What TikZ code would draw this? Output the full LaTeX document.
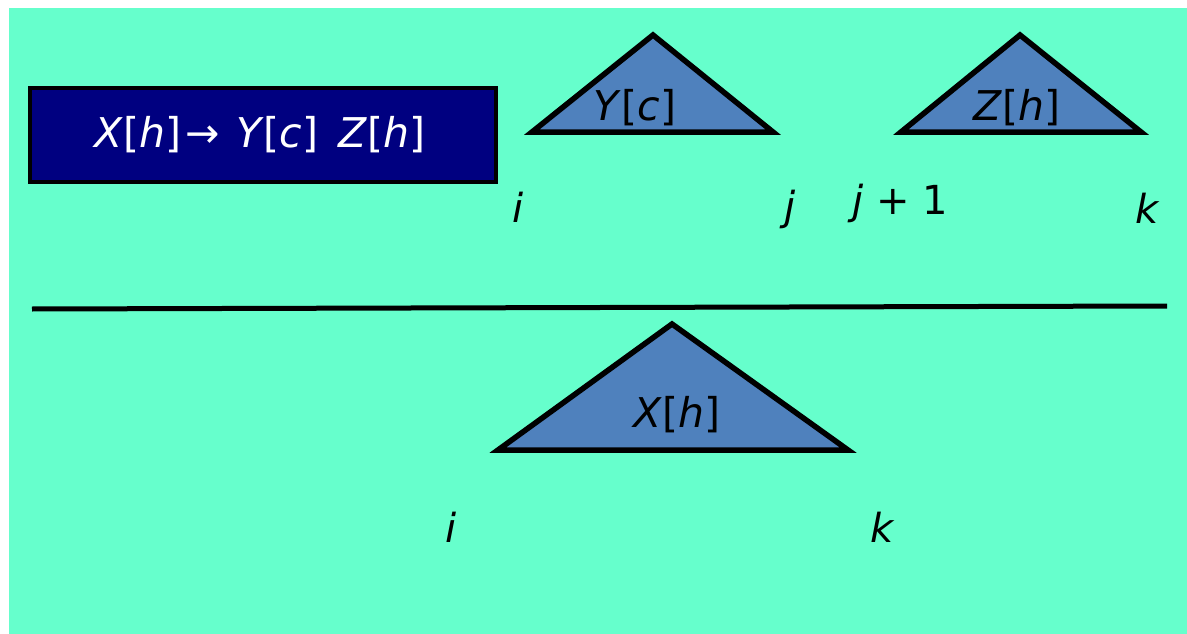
\documentclass[tikz,border=0pt]{standalone}
\usepackage{fontspec}
\setmainfont{DejaVu Sans}
\usepackage{xcolor}
\usepackage{tikz}
\definecolor{mint}{HTML}{66FFCC}
\definecolor{navy}{HTML}{000080}
\definecolor{treeblue}{HTML}{4F81BD}
\newcommand{\va}[1]{\textit{#1}}
\begin{document}
\begin{tikzpicture}[
 x=1pt,y=-1pt,
 tree/.style={draw=black,fill=treeblue,line width=5.5pt,line join=miter},
 treelabel/.style={font=\fontsize{41}{48}\selectfont,inner sep=0pt},
 span/.style={font=\fontsize{40}{46}\selectfont\itshape,inner sep=0pt},
 rulebox/.style={draw=black,fill=navy,line width=4.5pt,text=white,minimum width=466pt,minimum height=94pt,font=\fontsize{41}{48}\selectfont,inner sep=0pt}
]
\useasboundingbox (0,0) rectangle (1187,634);
\fill[mint] (9,8) rectangle (1187,634);

\node[rulebox] (rule) at (263,135) {\kern-6pt\va{X}[\va{h}]\kern4pt→\kern16pt\va{Y}[\va{c}]\kern20pt\va{Z}[\va{h}]};

% premises
\draw[tree] (532,132) -- (653,35) -- (773,132) -- cycle;
\node[treelabel] (yc) at (635,108) {\va{Y}[\va{c}]};
\draw[tree] (901,132) -- (1020,35) -- (1141,132) -- cycle;
\node[treelabel] (zh) at (1017,108) {\va{Z}[\va{h}]};
\node[span] (yi) at (518,207) {i};
\node[span] (yj) at (790,209) {j};
\node[span] (zj) at (900,203) {j\upshape\ + 1};
\node[span] (zk) at (1147,208) {k};

% inference bar
\coordinate (barl) at (32,309);
\coordinate (barr) at (1167,306);
\draw[line width=5pt] (barl) -- (barr);

% conclusion
\draw[tree] (498,450) -- (672,324) -- (848,450) -- cycle;
\node[treelabel] (xh) at (677,415) {\va{X}[\va{h}]};
\node[span] (xi) at (451,527) {i};
\node[span] (xk) at (882,527) {k};
\end{tikzpicture}
\end{document}
